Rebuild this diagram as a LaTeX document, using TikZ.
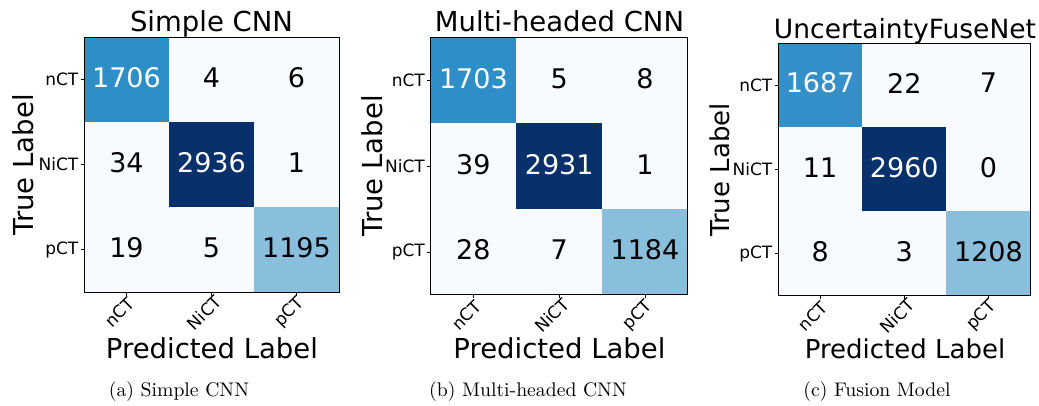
\documentclass[tikz,border=0pt]{standalone}
\usepackage{fontspec}
\newfontfamily\dv{DejaVu Sans}
\definecolor{bmin}{HTML}{F7FBFF}
\definecolor{bmax}{HTML}{08306B}
\definecolor{bmid}{HTML}{2E8FC8}
\definecolor{bmidc}{HTML}{3590C9}
\definecolor{blt}{HTML}{89BEDC}
\tikzset{
  cellbox/.style={draw=none, inner sep=0pt, outer sep=0pt},
  cmframe/.style={draw=black, line width=0.9pt, inner sep=0pt, outer sep=0pt},
  cmtick/.style={draw=black, line width=0.8pt},
  num/.style={inner sep=0pt, font=\dv\fontsize{27}{30}\selectfont},
  ticklab/.style={inner sep=0pt, font=\dv\fontsize{17}{19}\selectfont},
  ttl/.style={inner sep=0pt, font=\dv\fontsize{27.5}{30}\selectfont},
  axlab/.style={inner sep=0pt, font=\dv\fontsize{27.5}{30}\selectfont},
  subcap/.style={inner sep=0pt, scale=1.97, font=\fontsize{10}{12}\selectfont},
}
% #1 prefix, #2 left, #3 top, #4 cell size, #5 value/fill/textcolor list
\newcommand\cmpanel[5]{%
  \foreach \cmv/\cmf/\cmt [count=\cmk from 0] in {#5} {
    \pgfmathtruncatemacro\cmrow{\cmk/3}
    \pgfmathtruncatemacro\cmcol{mod(\cmk,3)}
    \node[cellbox, fill=\cmf, minimum size=#4pt] (#1c\cmrow\cmcol)
      at ({#2+(\cmcol+0.5)*#4},{#3+(\cmrow+0.5)*#4}) {};
    \node[num, text=\cmt, yshift=2pt] (#1n\cmrow\cmcol) at (#1c\cmrow\cmcol.center) {\cmv};
  }
  \node[cmframe, minimum size={3*#4pt}, anchor=north west] (#1frame) at (#2,#3) {};
  \foreach \j in {0,1,2} {
    \draw[cmtick] (#1c\j0.west) -- ++(-3.5,0);
    \draw[cmtick] (#1c2\j.south) -- ++(0,3.5);
  }
  \node[ticklab, anchor=east] (#1y0) at ([xshift=-5.5pt]#1c00.west) {nCT};
  \node[ticklab, anchor=east] (#1y1) at ([xshift=-5.5pt]#1c10.west) {NiCT};
  \node[ticklab, anchor=east] (#1y2) at ([xshift=-5.5pt]#1c20.west) {pCT};
  \node[ticklab, rotate=45] (#1x0) at ([xshift=-7pt,yshift=-20.5pt]#1c20.south) {nCT};
  \node[ticklab, rotate=45] (#1x1) at ([xshift=-7pt,yshift=-20.5pt]#1c21.south) {NiCT};
  \node[ticklab, rotate=45] (#1x2) at ([xshift=-7pt,yshift=-20.5pt]#1c22.south) {pCT};
}
\begin{document}
\begin{tikzpicture}[x=1pt,y=-1pt]
\useasboundingbox (0,0) rectangle (1039,406);
\fill[white] (0,0) rectangle (1039,406);

% (a) Simple CNN
\cmpanel{a}{84}{37}{85}{1706/bmid/white, 4/bmin/black, 6/bmin/black,
  34/bmin/black, 2936/bmax/white, 1/bmin/black,
  19/bmin/black, 5/bmin/black, 1195/blt/black}
\node[ttl, anchor=base] (ta) at (211.5,31.5) {Simple CNN};
\node[axlab, rotate=90] (yla) at (23.5,165) {True Label};
\node[axlab] (xla) at (212,348) {Predicted Label};
\node[subcap, anchor=base] (capa) at (179,396) {(a) Simple CNN};

% (b) Multi-headed CNN
\cmpanel{b}{430.5}{37.5}{85.8}{1703/bmid/white, 5/bmin/black, 8/bmin/black,
  39/bmin/black, 2931/bmax/white, 1/bmin/black,
  28/bmin/black, 7/bmin/black, 1184/blt/black}
\node[ttl, anchor=base] (tb) at (559.5,31.5) {Multi-headed CNN};
\node[axlab, rotate=90] (ylb) at (372,166) {True Label};
\node[axlab] (xlb) at (559.5,348) {Predicted Label};
\node[subcap, anchor=base] (capb) at (528,396) {(b) Multi-headed CNN};

% (c) Fusion Model
\cmpanel{c}{778}{43}{84.2}{1687/bmidc/white, 22/bmin/black, 7/bmin/black,
  11/bmin/black, 2960/bmax/white, 0/bmin/black,
  8/bmin/black, 3/bmin/black, 1208/blt/black}
\node[ttl, font=\dv\fontsize{26.5}{30}\selectfont, anchor=base] (tc) at (905,38.5) {UncertaintyFuseNet};
\node[axlab, font=\dv\fontsize{26}{30}\selectfont, rotate=90] (ylc) at (720,170) {True Label};
\node[axlab, font=\dv\fontsize{26}{30}\selectfont] (xlc) at (905,349) {Predicted Label};
\node[subcap, anchor=base] (capc) at (877,396) {(c) Fusion Model};
\end{tikzpicture}
\end{document}
